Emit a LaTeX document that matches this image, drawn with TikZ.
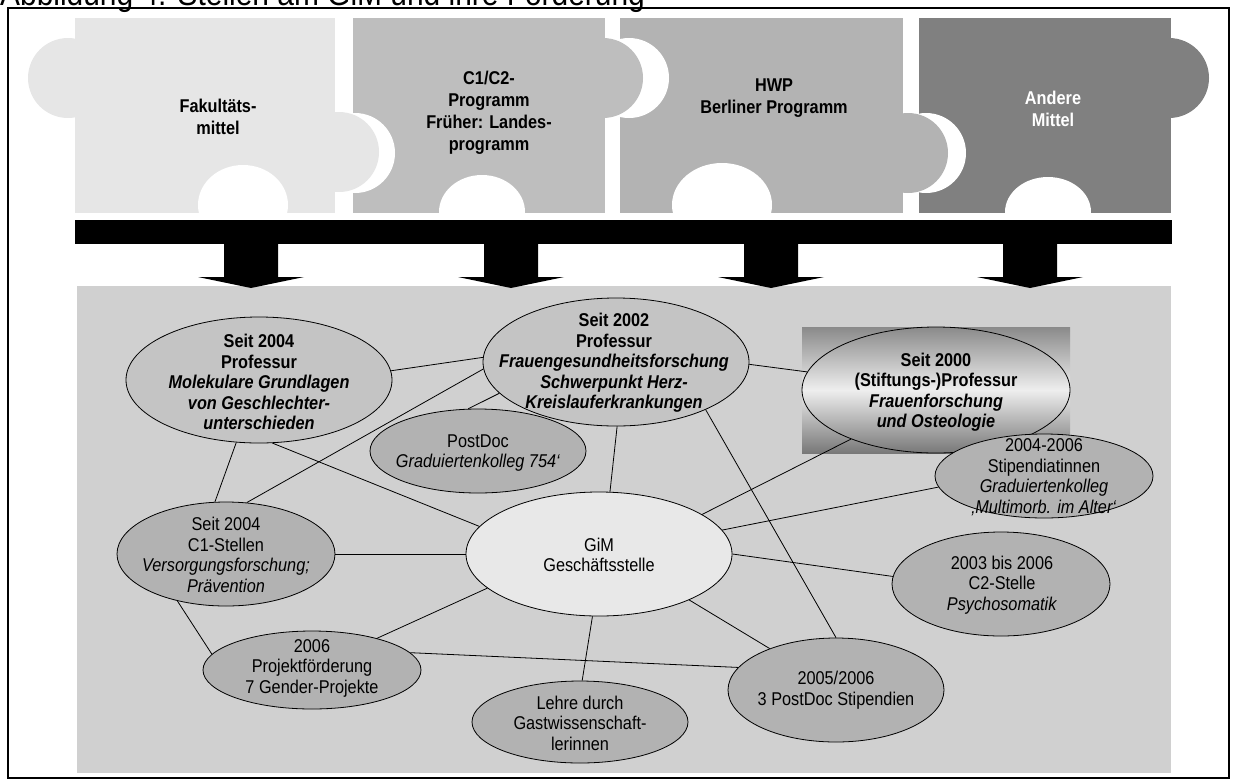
\documentclass[tikz,border=0pt]{standalone}
\usepackage{fontspec}
\setmainfont{Liberation Sans}[FakeStretch=0.88]
\usetikzlibrary{shapes.geometric}
\newcommand\efont{\fontsize{18.5}{20.5}\selectfont}
\newcommand\pfont{\fontsize{18.5}{22}\selectfont\bfseries}
\definecolor{pA}{HTML}{E6E6E6}
\definecolor{pB}{HTML}{BEBEBE}
\definecolor{pC}{HTML}{B3B3B3}
\definecolor{pD}{HTML}{808080}
\definecolor{panel}{HTML}{D0D0D0}
\definecolor{ebold}{HTML}{C4C4C4}
\definecolor{edark}{HTML}{B2B2B2}
\definecolor{elight}{HTML}{E8E8E8}
\definecolor{gtop}{HTML}{8A8A8A}
\definecolor{gmid}{HTML}{EEEEEE}
\definecolor{gbot}{HTML}{787878}
\begin{document}
\begin{tikzpicture}[x=1pt,y=-1pt,
  ell/.style={ellipse, draw=black, line width=0.8pt, inner sep=0pt},
  txt/.style={inner sep=0pt, align=center, font=\efont},
  ptxt/.style={inner sep=0pt, align=center, font=\pfont},
  conn/.style={draw=black, line width=0.8pt}]
\useasboundingbox (0,0) rectangle (1234,780);
\begin{scope}
\clip (0,0) rectangle (1234,780);
\node[anchor=base west, inner sep=0pt, font=\fontsize{34}{36}\selectfont] (title) at (0,5) {Abbildung 4: Stellen am GiM und ihre Förderung};
\end{scope}
% frame
\draw[line width=2pt] (8,8) rectangle (1229,778);
% puzzle pieces, right to left
\fill[pD] (919,18) rectangle (1171,213);
\fill[pD] (1169,78) circle[radius=40pt];
\fill[white] (926,153) circle[radius=40pt];
\fill[white] (1048,212) ellipse[x radius=43pt, y radius=35pt];
\fill[pC] (620,18) rectangle (903,213);
\fill[pC] (908,153) circle[radius=40pt];
\fill[white] (629,78) circle[radius=40pt];
\fill[white] (722,205) ellipse[x radius=50pt, y radius=42pt];
\fill[pB] (353,18) rectangle (605,213);
\fill[pB] (603,78) circle[radius=40pt];
\fill[white] (355,153) circle[radius=40pt];
\fill[white] (482,212) ellipse[x radius=43pt, y radius=37pt];
\fill[pA] (75,18) rectangle (335,213);
\fill[pA] (339,152) circle[radius=40pt];
\fill[pA] (68,78) circle[radius=40pt];
\fill[white] (243,205) ellipse[x radius=45pt, y radius=40pt];
\node[ptxt] (fak) at (218,117) {Fakultäts-\\mittel};
\node[ptxt] (c12) at (489,113) {C1/C2-\\Programm\\Früher: Landes-\\programm};
\node[ptxt] (hwp) at (774,98) {HWP\\Berliner Programm};
\node[ptxt, text=white] (and) at (1053,109) {Andere\\Mittel};
% bar
\fill[black] (75,220) rectangle (1172,244);
% panel
\fill[panel] (77,286) rectangle (1171,773);
% arrows
\foreach \c in {251,511,771,1030}{
  \fill[black] (\c-27,243) -- (\c+27,243) -- (\c+27,277) -- (\c+53,277) -- (\c,288) -- (\c-53,277) -- (\c-27,277) -- cycle;
}
% gradient box
\shade[top color=gtop, bottom color=gbot, middle color=gmid] (802,327) rectangle (1070,453);
% ellipses
\node[ell, fill=ebold, minimum width=266pt, minimum height=126pt] (mol) at (259,380) {};
\node[ell, fill=ebold, minimum width=266pt, minimum height=128pt] (frau) at (616,362) {};
\node[ell, minimum width=268pt, minimum height=126pt] (stift) at (936,390) {};
\node[ell, fill=edark, minimum width=216pt, minimum height=84pt] (pd) at (478,451) {};
\node[ell, fill=edark, minimum width=218pt, minimum height=104pt] (c1) at (226,554) {};
\node[ell, fill=elight, minimum width=266pt, minimum height=124pt] (gim) at (599,554) {};
\node[ell, fill=edark, minimum width=218pt, minimum height=84pt] (stip) at (1044,476) {};
\node[ell, fill=edark, minimum width=218pt, minimum height=104pt] (c2) at (1001,584) {};
\node[ell, fill=edark, minimum width=218pt, minimum height=78pt] (proj) at (312,670) {};
\node[ell, fill=edark, minimum width=216pt, minimum height=82pt] (lehre) at (580,722) {};
\node[ell, fill=edark, minimum width=216pt, minimum height=104pt] (pds) at (836,690) {};
% texts
\node[txt] (molt) at (259,382) {\textbf{Seit 2004}\\\textbf{Professur}\\\textbf{\textit{Molekulare Grundlagen}}\\\textbf{\textit{von Geschlechter-}}\\\textbf{\textit{unterschieden}}};
\node[txt] (fraut) at (614,363) {\textbf{Seit 2002}\\\textbf{Professur}\\\textbf{\textit{Frauengesundheitsforschung}}\\\textbf{\textit{Schwerpunkt Herz-}}\\\textbf{\textit{Kreislauferkrankungen}}};
\node[txt] (stiftt) at (936,392) {\textbf{Seit 2000}\\\textbf{(Stiftungs-)Professur}\\\textbf{\textit{Frauenforschung}}\\\textbf{\textit{und Osteologie}}};
\node[txt] (pdt) at (478,453) {PostDoc\\\textit{Graduiertenkolleg 754‘}};
\node[txt] (c1t) at (226,555) {Seit 2004\\C1-Stellen\\\textit{Versorgungsforschung;}\\\textit{Prävention}};
\node[txt] (gimt) at (599,555) {GiM\\Geschäftsstelle};
\node[txt] (stipt) at (1044,477) {2004-2006\\Stipendiatinnen\\\textit{Graduiertenkolleg}\\\textit{‚Multimorb. im Alter‘}};
\node[txt] (c2t) at (1002,585) {2003 bis 2006\\C2-Stelle\\\textit{Psychosomatik}};
\node[txt] (projt) at (312,668) {2006\\Projektförderung\\7 Gender-Projekte};
\node[txt] (lehret) at (580,723) {Lehre durch\\Gastwissenschaft-\\lerinnen};
\node[txt] (pdst) at (836,690) {2005/2006\\3 PostDoc Stipendien};
% connectors
\draw[conn] (mol.4) -- (frau.178);
\draw[conn] (mol.250) -- (c1.102);
\draw[conn] (mol.282) -- (gim.167);
\draw[conn] (c1.68) -- (frau.183);
\draw[conn] (pd.103) -- (frau.195);
\draw[conn] (frau.271) -- (gim.80);
\draw[conn] (frau.332) -- (pds.90);
\draw[conn] (frau.359) -- (stift.172);
\draw[conn] (stift.210) -- (gim.21);
\draw[conn] (stip.186) -- (gim.11);
\draw[conn] (gim.0) -- (c2.176);
\draw[conn] (gim.333) -- (pds.148);
\draw[conn] (gim.264) -- (lehre.87);
\draw[conn] (gim.197) -- (proj.26);
\draw[conn] (c1.0) -- (gim.180);
\draw[conn] (c1.224) -- (proj.171);
\draw[conn] (proj.10) -- (pds.167);
\end{tikzpicture}
\end{document}
